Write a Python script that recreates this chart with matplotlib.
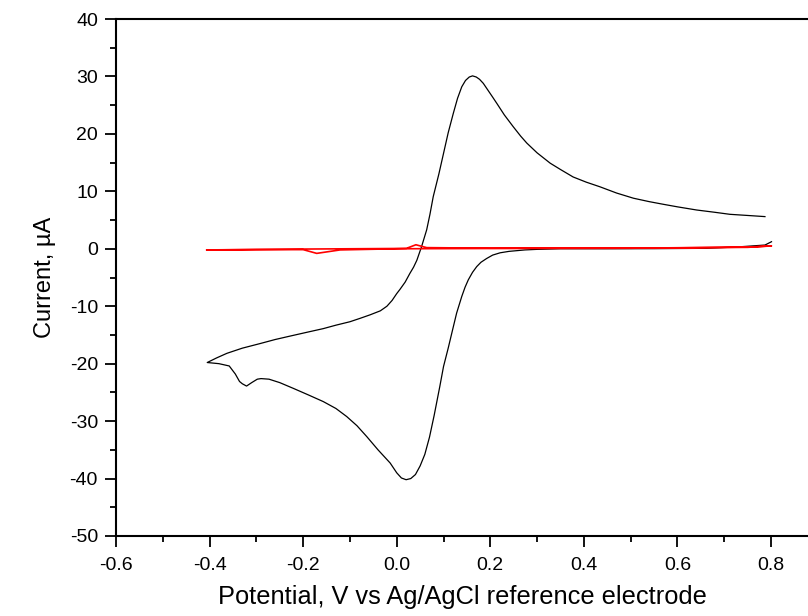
import matplotlib
matplotlib.use("Agg")
import matplotlib.pyplot as plt
from matplotlib.ticker import MultipleLocator

plt.rcParams['font.family'] = ['Liberation Sans', 'DejaVu Sans']

# black CV: reverse branch from 0.8 V down to -0.4 V, then forward branch back up
black_v = [0.801, 0.787, 0.734, 0.662, 0.55, 0.45, 0.35, 0.3, 0.274, 0.24, 0.221,
           0.205, 0.192, 0.18, 0.171, 0.162, 0.153, 0.146, 0.139, 0.128, 0.12, 0.11,
           0.1, 0.092, 0.08, 0.07, 0.06, 0.05, 0.04, 0.03, 0.02, 0.01, 0.0, -0.014,
           -0.04, -0.064, -0.085, -0.107, -0.13, -0.157, -0.19, -0.221, -0.25, -0.273,
           -0.29, -0.298, -0.31, -0.321, -0.33, -0.336, -0.345, -0.358, -0.38, -0.405,
           -0.385, -0.363, -0.33, -0.292, -0.26, -0.228, -0.19, -0.157, -0.13, -0.1,
           -0.078, -0.057, -0.035, -0.021, -0.01, 0.0, 0.007, 0.018, 0.028, 0.036,
           0.043, 0.053, 0.064, 0.071, 0.078, 0.09, 0.1, 0.11, 0.121, 0.13, 0.139,
           0.147, 0.155, 0.162, 0.17, 0.177, 0.185, 0.195, 0.205, 0.214, 0.23, 0.249,
           0.265, 0.278, 0.3, 0.328, 0.35, 0.377, 0.405, 0.434, 0.47, 0.506, 0.54,
           0.57, 0.6, 0.641, 0.68, 0.712, 0.75, 0.787]
black_i = [1.23, 0.65, 0.35, 0.08, 0.02, 0.0, 0.0, -0.1, -0.2, -0.45, -0.7,
           -1.1, -1.7, -2.35, -3.1, -4.1, -5.4, -6.7, -8.3, -11.2, -13.9, -17.3,
           -20.5, -24.0, -29.0, -32.8, -35.8, -37.8, -39.3, -40.0, -40.2, -39.9, -39.0, -37.3,
           -35.0, -32.7, -30.8, -29.2, -27.8, -26.6, -25.4, -24.3, -23.3, -22.7,
           -22.6, -22.7, -23.3, -23.9, -23.5, -23.1, -21.8, -20.4, -20.0, -19.8,
           -19.0, -18.2, -17.3, -16.5, -15.8, -15.2, -14.5, -13.9, -13.3, -12.7,
           -12.1, -11.5, -10.8, -10.0, -9.0, -7.8, -7.06, -5.8, -4.3, -3.2,
           -2.0, 0.35, 3.3, 6.0, 9.07, 13.0, 16.6, 20.2, 23.6, 26.2, 28.2,
           29.3, 29.9, 30.1, 29.9, 29.5, 28.8, 27.6, 26.4, 25.3, 23.3, 21.25,
           19.6, 18.4, 16.7, 14.9, 13.8, 12.5, 11.6, 10.8, 9.7, 8.8, 8.2,
           7.74, 7.3, 6.75, 6.35, 6.0, 5.8, 5.6]

# red blank scan: forward with small bump, reverse with small dip
red_v = [-0.406, -0.2, 0.0, 0.021, 0.041, 0.064, 0.2, 0.5, 0.75, 0.801,
         0.75, 0.5, 0.2, 0.0, -0.121, -0.171, -0.2, -0.3, -0.406]
red_i = [-0.2, -0.05, 0.05, 0.08, 0.7, 0.2, 0.1, 0.1, 0.25, 0.5,
         0.3, 0.1, 0.05, 0.0, -0.2, -0.8, -0.15, -0.15, -0.2]

fig = plt.figure(figsize=(8.08, 6.16), dpi=100)
ax = fig.add_axes([116 / 808, 80 / 616, 692 / 808, 517 / 616])

ax.plot(black_v, black_i, color='black', lw=0.9)
ax.plot(red_v, red_i, color='red', lw=1.2)

ax.set_xlim(-0.6, 0.879)
ax.set_ylim(-50, 40)
ax.xaxis.set_minor_locator(MultipleLocator(0.1))
ax.yaxis.set_minor_locator(MultipleLocator(5))
ax.set_xticks([-0.6, -0.4, -0.2, 0.0, 0.2, 0.4, 0.6, 0.8])
ax.set_xticklabels(['-0.6', '-0.4', '-0.2', '0.0', '0.2', '0.4', '0.6', '0.8'])
ax.set_yticks(range(-50, 41, 10))
ax.set_yticklabels([str(v) for v in range(-50, 41, 10)])

ax.spines['right'].set_visible(False)
for s in ['left', 'bottom', 'top']:
    ax.spines[s].set_linewidth(1.5)
ax.tick_params(which='major', direction='out', length=8, width=1.3, labelsize=14, pad=5)
ax.tick_params(which='minor', direction='out', length=4.5, width=1.3)
ax.tick_params(axis='x', which='major', pad=7)
ax.tick_params(top=False, right=False, which='both')

ax.set_xlabel('Potential, V vs Ag/AgCl reference electrode', fontsize=18.3, labelpad=8)
ax.set_ylabel('Current, µA', fontsize=17, labelpad=10)

fig.savefig('out.png', dpi=100)
